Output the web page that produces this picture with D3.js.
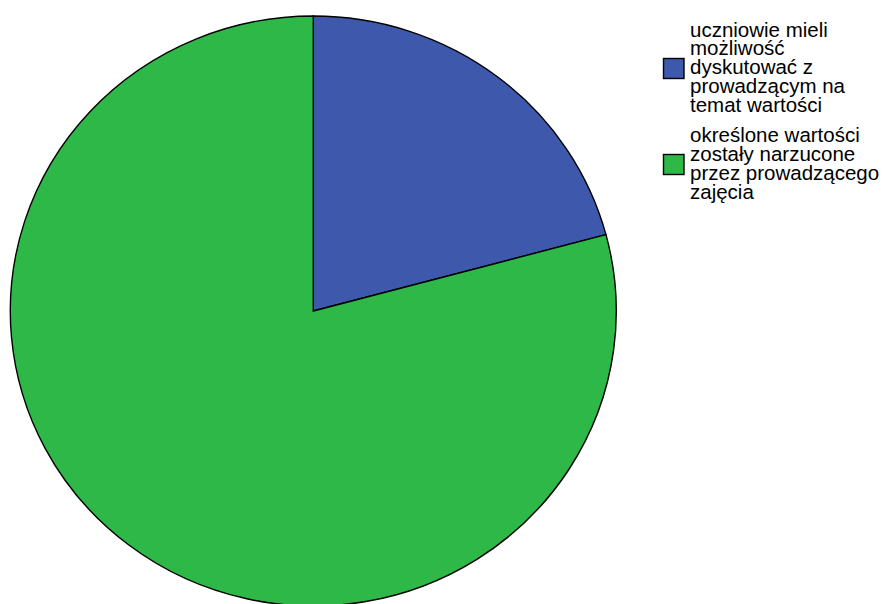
<!DOCTYPE html>
<html>
<head>
<meta charset="utf-8">
<script src="https://cdn.jsdelivr.net/npm/d3@7"></script>
<style>
  body { margin: 0; background: #fff; }
  svg { display: block; }
  .legend text { font-family: Arial, "Liberation Sans", sans-serif; font-size: 20.5px; fill: #000; }
</style>
</head>
<body>
<div id="chart"></div>
<script>
  'use strict';

  var W = 883, H = 604;

  // categories and counts
  var categories = [
    'uczniowie mieli możliwość dyskutować z prowadzącym na temat wartości',
    'określone wartości zostały narzucone przez prowadzącego zajęcia'
  ];
  var legendLines = [
    ['uczniowie mieli', 'możliwość', 'dyskutować z', 'prowadzącym na', 'temat wartości'],
    ['określone wartości', 'zostały narzucone', 'przez prowadzącego', 'zajęcia']
  ];
  var values = [5, 19];
  var colors = ['#3E58AC', '#2EB848'];

  var cx = 313.3, cy = 311, rx = 303, ry = 295;

  var svg = d3.select('#chart').append('svg')
    .attr('width', W)
    .attr('height', H);

  var pie = d3.pie().sort(null).value(function (d) { return d; });
  var arc = d3.arc().innerRadius(0).outerRadius(rx);

  // pie is slightly squashed vertically in the original
  var g = svg.append('g')
    .attr('transform', 'translate(' + cx + ',' + cy + ') scale(1,' + (ry / rx) + ')');

  g.selectAll('path')
    .data(pie(values))
    .enter()
    .append('path')
      .attr('d', arc)
      .attr('fill', function (d, i) { return colors[i]; })
      .attr('stroke', '#000')
      .attr('stroke-width', 1.4)
      .attr('stroke-linejoin', 'miter')
      .attr('vector-effect', 'non-scaling-stroke');

  // legend
  var legend = svg.append('g').attr('class', 'legend');
  var lineH = 18.9;
  var firstBaseline = [36.5, 142];
  var boxY = [58, 154];

  legendLines.forEach(function (lines, i) {
    var item = legend.append('g');
    item.append('rect')
      .attr('x', 663.5)
      .attr('y', boxY[i] + 0.5)
      .attr('width', 20.5)
      .attr('height', 20)
      .attr('fill', colors[i])
      .attr('stroke', '#000')
      .attr('stroke-width', 1.4);

    item.selectAll('text')
      .data(lines)
      .enter()
      .append('text')
        .attr('x', 690)
        .attr('y', function (d, j) { return firstBaseline[i] + j * lineH; })
        .text(function (d) { return d; });
  });
</script>
</body>
</html>
